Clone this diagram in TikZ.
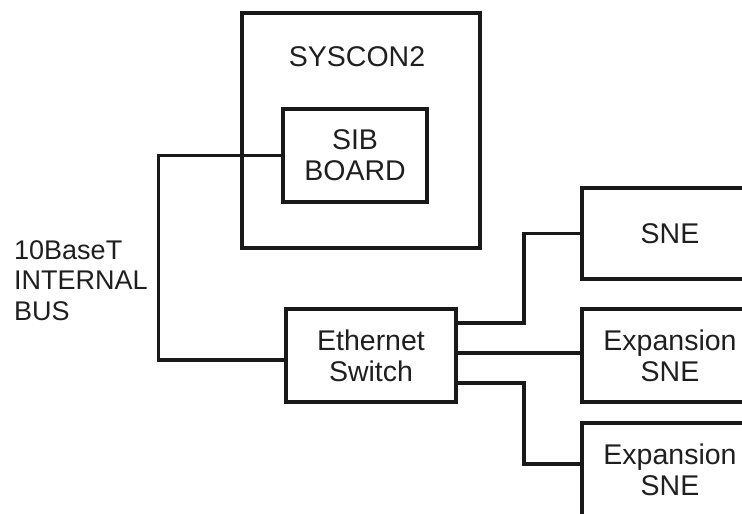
\documentclass[tikz,border=0pt]{standalone}
\usepackage{fontspec}
\setmainfont{Liberation Sans}
\usetikzlibrary{positioning}

\begin{document}
\begin{tikzpicture}[x=1pt,y=1pt,
 box/.style={draw=black!90,line width=3.5pt,inner sep=0pt,align=center,
 text=black!88,font=\fontsize{28.5}{31}\selectfont},
 wire/.style={line width=3.5pt,black!90},
 lbl/.style={inner sep=0pt,text=black!88,font=\fontsize{28.5}{31}\selectfont}]
\clip (0,0) rectangle (742,514);
\node[box,minimum width=238pt,minimum height=235pt] (sys) at (361,383.5) {};
\node[lbl,anchor=base] (systitle) at (357,447) {SYSCON2};
\node[box,minimum width=144pt,minimum height=93pt] (sib) at (355,358.5) {SIB\\BOARD};
\node[box,minimum width=170pt,minimum height=93pt] (eth) at (371,158.5) {Ethernet\\Switch};
\node[box,minimum width=176pt,minimum height=91pt] (sne) at (670,280.5) {SNE};
\node[box,minimum width=176pt,minimum height=93pt] (exp1) at (670,158.5) {Expansion\\SNE};
\node[box,minimum width=176pt,minimum height=93pt] (exp2) at (670,44.5) {Expansion\\SNE};
\node[lbl,anchor=north west,align=left,font=\fontsize{27}{30.5}\selectfont] (bus) at (14,274) {10BaseT\\INTERNAL\\BUS};
\draw[wire] (sib.west) -- ++(-123,0) |- ([yshift=-4.5pt]eth.west);
\draw[wire] ([yshift=32.5pt]eth.east) -- ++(66,0) |- (sne.west);
\draw[wire] ([yshift=2.5pt]eth.east) -- ([yshift=2.5pt]exp1.west);
\draw[wire] ([yshift=-27.5pt]eth.east) -- ++(66,0) |- ([yshift=5.5pt]exp2.west);
\end{tikzpicture}
\end{document}
